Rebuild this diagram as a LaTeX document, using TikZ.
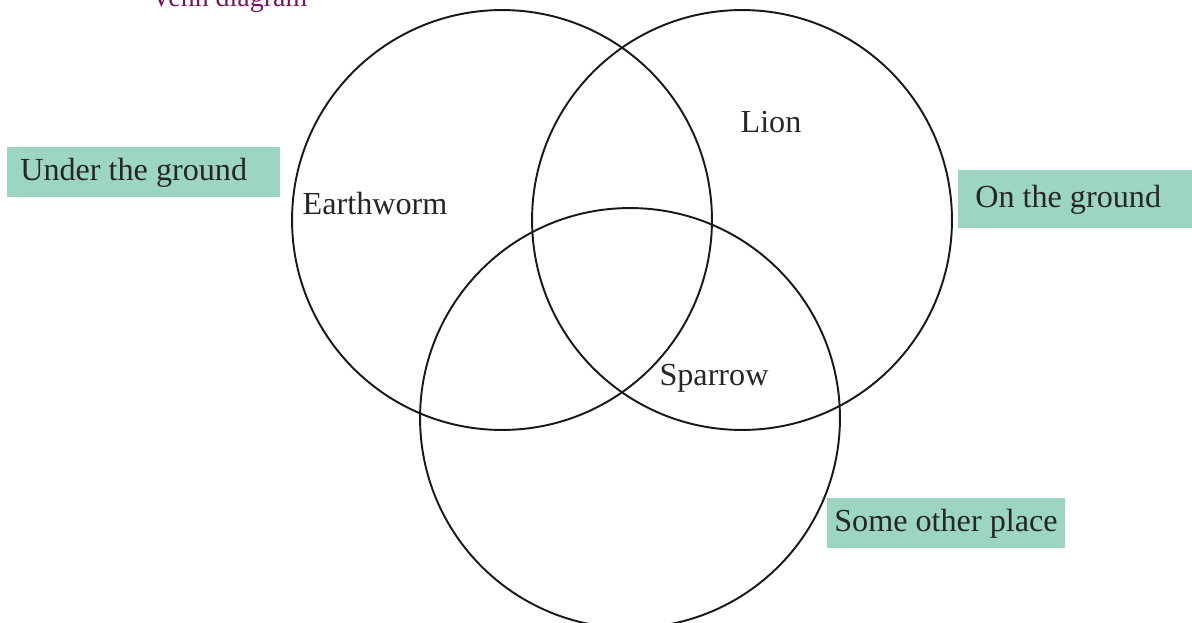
\documentclass[tikz,border=0pt]{standalone}
\usepackage{fontspec}
\setmainfont{Liberation Serif}
\usetikzlibrary{positioning}
\definecolor{boxgreen}{RGB}{157,214,192}
\definecolor{titlepurple}{RGB}{118,22,98}
% box text: total width, left padding, text
\newcommand{\tagtext}[3]{\makebox[#1][l]{\hspace{#2}#3}}

\begin{document}
\begin{tikzpicture}[x=0.02cm, y=-0.02cm, line join=round, line cap=round,
  ring/.style={line width=1.1pt, black!90},
  word/.style={font=\fontsize{18.3}{22}\selectfont, text=black!85, inner sep=0pt, anchor=base},
  tag/.style={word, fill=boxgreen, anchor=north west, inner xsep=0pt, inner ysep=0pt}]
  \useasboundingbox (0,0) rectangle (1192,622);

  % Title (cut off at the top edge)
  \node[font=\fontsize{15.9}{19}\selectfont, text=titlepurple, inner sep=0pt, anchor=base west]
    (title) at (151,7) {Venn diagram};

  % Centres of the three circles
  \coordinate (U) at (502,220);
  \coordinate (G) at (742,220);
  \coordinate (S) at (630,418);

  % The circles
  \draw[ring] (U) circle[radius=4.2cm];
  \draw[ring] (G) circle[radius=4.2cm];
  \draw[ring] (S) circle[radius=4.2cm];

  % Animals
  \node[word] (earthworm) at (375,214) {Earthworm};
  \node[word] (lion) at (771,132) {Lion};
  \node[word] (sparrow) at (714,385) {Sparrow};

  % Set labels
  \node[tag, minimum height=1cm] (under) at (7,147) {\tagtext{5.46cm}{0.26cm}{Under the ground}};
  \node[tag, minimum height=1.16cm] (on) at (958,170) {\tagtext{4.68cm}{0.34cm}{On the ground}};
  \node[tag, minimum height=1cm] (other) at (827,498) {\tagtext{4.76cm}{0.14cm}{Some other place}};
\end{tikzpicture}
\end{document}
